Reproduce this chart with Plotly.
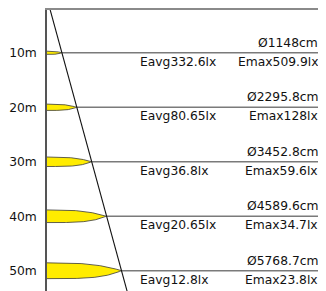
import numpy as np
import plotly.graph_objects as go

# ---- data ----
distance_m = [10, 20, 30, 40, 50]
distance_labels = ["10m", "20m", "30m", "40m", "50m"]
diameter_cm = [1148, 2295.8, 3452.8, 4589.6, 5768.7]
eavg_lx = [332.6, 80.65, 36.8, 20.65, 12.8]
emax_lx = [509.9, 128, 59.6, 34.7, 23.8]

# ---- styling / layout constants ----
FONT = "DejaVu Sans"
FSIZE = 12.3
X_MAX = 21600            # horizontal extent of plot (cm units)
Y_RANGE = [53.72, 2.15]  # reversed: distance grows downward
LENS_REL_H = 0.058       # lens thickness relative to distance
YELLOW = "#FFEC00"
GRAY = "#7a7a7a"

fig = go.Figure()

# light-distribution lenses
t = np.linspace(0, 1, 80)
for d, dia in zip(distance_m, diameter_cm):
    h = LENS_REL_H * d / 2
    xs_top = t * dia
    ys_top = d - h * (1 - t ** 3.0)
    xs_bot = (t * dia)[::-1]
    ys_bot = (d + h * (1 - t ** 4.0))[::-1]
    fig.add_trace(go.Scatter(
        x=np.concatenate([xs_top, xs_bot]),
        y=np.concatenate([ys_top, ys_bot]),
        fill="toself", fillcolor=YELLOW,
        line=dict(color="#3a3a3a", width=0.8),
        mode="lines", hoverinfo="skip"))

# horizontal level lines from beam edge to the right
for d, dia in zip(distance_m, diameter_cm):
    fig.add_trace(go.Scatter(
        x=[dia, X_MAX], y=[d, d], mode="lines",
        line=dict(color=GRAY, width=1.6), hoverinfo="skip"))

# beam edge (diagonal) through the origin and the measured diameters
slope = diameter_cm[-1] / distance_m[-1]
edge_x = [0] + diameter_cm + [slope * 60]
edge_y = [0] + distance_m + [60]
fig.add_trace(go.Scatter(x=edge_x, y=edge_y, mode="lines",
                         line=dict(color="#111111", width=1.1),
                         hoverinfo="skip"))

annotations = []
for d, dia, ea, em in zip(distance_m, diameter_cm, eavg_lx, emax_lx):
    annotations.append(dict(
        x=0.978, xref="paper", y=d, yref="y", xanchor="right", yanchor="bottom",
        text=f"Ø{dia:g}cm", showarrow=False, yshift=1,
        font=dict(family=FONT, size=FSIZE, color="#111")))
    annotations.append(dict(
        x=0.326, xref="paper", y=d, yref="y", xanchor="left", yanchor="top",
        text=f"Eavg{ea:g}lx", showarrow=False, yshift=0,
        font=dict(family=FONT, size=FSIZE, color="#111")))
    annotations.append(dict(
        x=0.978, xref="paper", y=d, yref="y", xanchor="right", yanchor="top",
        text=f"Emax{em:g}lx", showarrow=False, yshift=0,
        font=dict(family=FONT, size=FSIZE, color="#111")))

# the page body adds an 8px margin, so the figure is sized to fit the window
fig.update_layout(
    width=318, height=283,
    margin=dict(l=39, r=0, t=2, b=0),
    paper_bgcolor="white", plot_bgcolor="white",
    showlegend=False,
    annotations=annotations,
    xaxis=dict(range=[0, X_MAX], side="top", showline=True,
               linecolor="#8a8a8a", linewidth=2, showgrid=False,
               zeroline=False, showticklabels=False, ticks=""),
    yaxis=dict(range=Y_RANGE, showline=True, linecolor="#555555",
               linewidth=1.5, showgrid=False, zeroline=False,
               tickvals=distance_m, ticktext=distance_labels, ticks="",
               ticklabelstandoff=6,
               tickfont=dict(family=FONT, size=FSIZE, color="#111")),
)

fig.write_html("out.html")
